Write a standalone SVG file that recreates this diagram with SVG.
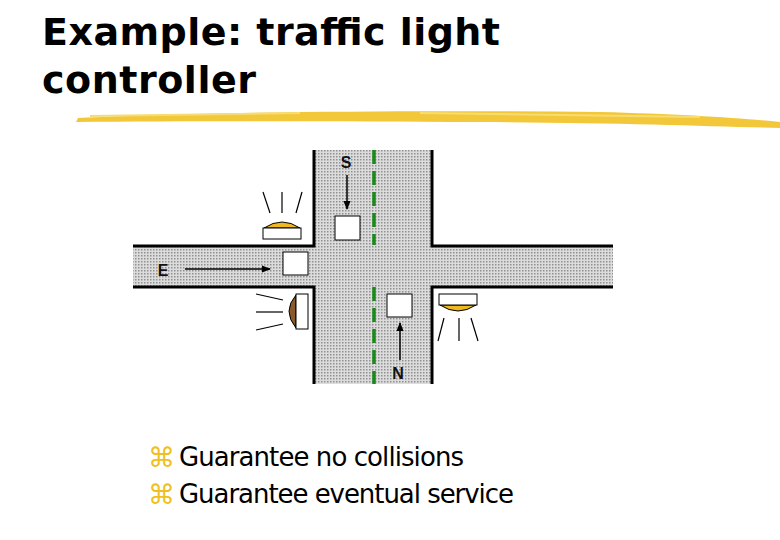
<svg xmlns="http://www.w3.org/2000/svg" width="780" height="540" viewBox="0 0 780 540">
<style>
.t{font-family:"DejaVu Sans",Verdana,sans-serif;font-weight:bold;font-size:38px;fill:#000}
.b{font-family:"DejaVu Sans",Tahoma,sans-serif;font-size:26px;fill:#000}
.bul{font-family:"DejaVu Sans",sans-serif;font-size:27px;fill:#f0c020}
.lbl{font-family:"Liberation Sans",Arial,sans-serif;font-weight:bold;font-size:16px;fill:#111}
.edge{stroke:#000;stroke-width:3;fill:none}
.ray{stroke:#000;stroke-width:1.2}
.ar{stroke:#000;stroke-width:1.5;marker-end:url(#ah)}
.box{fill:#fff;stroke:#000;stroke-width:1}
</style>
<defs>
<pattern id="dots" width="3" height="3" patternUnits="userSpaceOnUse">
<rect width="3" height="3" fill="#dcdcdc"/><rect width="1.5" height="1.5" fill="#909090"/>
</pattern>
<marker id="ah" viewBox="0 0 10 10" refX="9" refY="5" markerWidth="6" markerHeight="6" orient="auto"><path d="M0,1 L10,5 L0,9 z" fill="#000"/></marker>
</defs>
<rect width="780" height="540" fill="#fff"/>
<text class="t" x="42" y="45" textLength="458">Example: traffic light</text>
<text class="t" x="42" y="93" textLength="214">controller</text>
<path d="M78,118 C200,112 400,110 600,112 C680,114 740,118 780,122 L780,128 C700,126 600,122 450,122 C300,121 180,121 76,122 Z" fill="#f2c83a"/>
<path d="M90,116 L300,113 M420,113 L700,117" stroke="#f7dc70" stroke-width="2"/>
<g id="road">
<rect x="133" y="246" width="480" height="41" fill="url(#dots)"/>
<rect x="314" y="150" width="118" height="234" fill="url(#dots)"/>
<path class="edge" d="M133,246 H314 V150 M432,150 V246 H613 M133,287 H314 V384 M432,384 V287 H613"/>
<path d="M374,150 V245 M374,287 V384" stroke="#1a8a1a" stroke-width="3.5" stroke-dasharray="14,7"/>
</g>
<g id="cars">
<rect class="box" x="335" y="216" width="25" height="24"/>
<rect class="box" x="283" y="252" width="25" height="23"/>
<rect class="box" x="387" y="294" width="25" height="23"/>
</g>
<g id="connectors">
<line class="ar" x1="347" y1="175" x2="347" y2="209"/>
<line class="ar" x1="185" y1="269" x2="270" y2="269"/>
<line class="ar" x1="400" y1="360" x2="400" y2="323"/>
</g>
<text class="lbl" x="346" y="168" text-anchor="middle">S</text>
<text class="lbl" x="163" y="276" text-anchor="middle">E</text>
<text class="lbl" x="398" y="379" text-anchor="middle">N</text>
<g id="lightS">
<path d="M264,228 Q282,216 300,228 Z" fill="#f0b820" stroke="#000"/>
<rect class="box" x="263" y="228" width="38" height="11"/>
<line class="ray" x1="263" y1="192" x2="270" y2="213"/><line class="ray" x1="282" y1="192" x2="282" y2="213"/><line class="ray" x1="302" y1="192" x2="296" y2="213"/>
</g>
<g id="lightE">
<path d="M296,295 Q282,311 296,328 Z" fill="#8b5a2b" stroke="#000"/>
<rect class="box" x="296" y="294" width="12" height="35"/>
<line class="ray" x1="256" y1="294" x2="283" y2="300"/><line class="ray" x1="256" y1="312" x2="283" y2="312"/><line class="ray" x1="256" y1="330" x2="283" y2="324"/>
</g>
<g id="lightN">
<path d="M440,305 Q458,317 476,305 Z" fill="#f0b820" stroke="#000"/>
<rect class="box" x="439" y="294" width="38" height="11"/>
<line class="ray" x1="438" y1="341" x2="444" y2="318"/><line class="ray" x1="459" y1="341" x2="459" y2="318"/><line class="ray" x1="478" y1="341" x2="471" y2="318"/>
</g>
<text class="bul" x="148" y="467">⌘</text>
<text class="b" x="179" y="466" textLength="285">Guarantee no collisions</text>
<text class="bul" x="148" y="504">⌘</text>
<text class="b" x="179" y="503" textLength="335">Guarantee eventual service</text>
</svg>
